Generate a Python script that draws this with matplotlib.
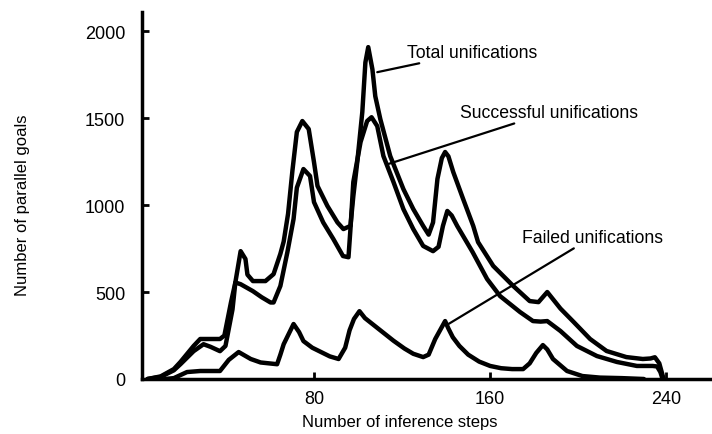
import matplotlib
matplotlib.use("Agg")
import matplotlib.pyplot as plt

plt.rcParams['font.family'] = ['Liberation Sans', 'DejaVu Sans']

# total unifications
total_x = [4, 10, 16, 19, 25, 28, 37, 39, 42, 44, 46.4, 48.6, 49.5, 52, 57.7, 61.4, 64.5, 66,
           68, 70, 72, 74.5, 77.4, 79.8, 81.4, 85.9, 90.5, 93.2, 96.4, 97.7, 99.5, 101.8,
           103.2, 104.5, 106.4, 107.7, 110, 114.5, 120.5, 125, 129.5, 132, 134, 136, 138,
           139.5, 141, 143.2, 147.7, 152.3, 154.5, 161.4, 170.5, 178, 182, 186, 192, 198,
           205.5, 213, 222, 229.5, 233, 235, 237, 238.6, 239]
total_y = [0, 15, 57, 98, 190, 230, 230, 250, 440, 555, 735, 690, 600, 563, 563, 603, 720,
           790, 950, 1200, 1420, 1483, 1437, 1247, 1110, 995, 900, 862, 880, 1050, 1247, 1535,
           1820, 1908, 1780, 1626, 1494, 1282, 1092, 977, 880, 830, 900, 1150, 1270, 1305,
           1280, 1190, 1035, 880, 787, 650, 535, 448, 442, 500, 405, 328, 230, 161, 126, 115,
           118, 125, 90, 17, 0]

# successful unifications
success_x = [4, 10, 16, 19, 25, 29.5, 32.7, 37, 39.5, 42.7, 44, 46.4, 52, 56, 60, 61.4, 64.5,
             67.7, 70.5, 72, 75, 78, 79.8, 84, 88.6, 93, 95.5, 96.4, 97.7, 101, 104, 106,
             108.6, 111.4, 116, 120.5, 125, 129.5, 134, 136.5, 138.5, 140.5, 142.5, 145, 152,
             158.6, 164.5, 173.6, 179.5, 183, 186, 192, 199.5, 208.6, 217.7, 226.8, 234, 236,
             237.5, 238.5]
success_y = [0, 12, 50, 85, 160, 200, 185, 160, 190, 400, 555, 545, 505, 470, 440, 440, 535,
             730, 920, 1100, 1207, 1167, 1017, 900, 805, 707, 700, 862, 1132, 1362, 1483, 1505,
             1454, 1282, 1132, 977, 862, 765, 735, 760, 880, 966, 940, 880, 730, 575, 477, 385,
             333, 330, 333, 276, 190, 132, 98, 75, 75, 72, 40, 0]

# failed unifications
failed_x = [12, 16, 22, 28, 37, 41, 45.5, 51, 55.5, 63, 64.5, 66, 70.5, 73, 75, 79, 83, 87, 91,
            94, 96, 98, 100.5, 103, 107, 111, 116, 121, 125, 129.5, 132, 135, 139.5, 141, 143,
            146, 150, 155, 160, 165, 170, 175, 178, 181, 184, 186, 188.6, 195, 202, 210, 220,
            230]
failed_y = [0, 5, 40, 46, 46, 110, 155, 115, 95, 85, 140, 200, 316, 270, 218, 180, 155, 130,
            115, 180, 280, 345, 390, 350, 310, 270, 220, 175, 145, 126, 140, 230, 333, 290, 240,
            190, 140, 100, 75, 62, 57, 57, 90, 150, 195, 170, 115, 46, 17, 8, 5, 0]

x_ticks = [80, 160, 240]
y_ticks = [0, 500, 1000, 1500, 2000]

fig = plt.figure(figsize=(7.12, 4.35), dpi=100)
ax = fig.add_axes([142 / 712, 55 / 435, 570 / 712, 367 / 435])

for xs, ys in [(total_x, total_y), (success_x, success_y), (failed_x, failed_y)]:
    ax.plot(xs, ys, color="black", lw=3.2, solid_joinstyle="round", solid_capstyle="round")

ax.set_xlim(1.5, 261)
ax.set_ylim(0, 2110)
ax.set_xticks(x_ticks)
ax.set_yticks(y_ticks)
ax.tick_params(direction="in", length=5, width=2, labelsize=13)
ax.tick_params(axis="y", pad=12)
ax.tick_params(axis="x", pad=8)
for side in ["top", "right"]:
    ax.spines[side].set_visible(False)
for side in ["left", "bottom"]:
    ax.spines[side].set_linewidth(2.5)

ax.set_ylabel("Number of parallel goals", fontsize=12)
ax.yaxis.set_label_coords(-0.196, 0.477)
fig.text(400 / 712, 1 - 423 / 435, "Number of inference steps", fontsize=12,
         ha="center", va="center")

arrow = dict(arrowstyle="-", color="black", lw=1.6, shrinkA=0, shrinkB=0)
ax.annotate("Total unifications", xy=(108.6, 1764), xytext=(122.3, 1880),
            fontsize=12.7, va="center", arrowprops=arrow)
ax.annotate("Successful unifications", xy=(113.6, 1236), xytext=(146.4, 1534),
            fontsize=12.7, va="center", arrowprops=arrow)
ax.annotate("Failed unifications", xy=(141, 316), xytext=(174.5, 816),
            fontsize=12.7, va="center", arrowprops=arrow)

fig.savefig("out.png", dpi=100)
